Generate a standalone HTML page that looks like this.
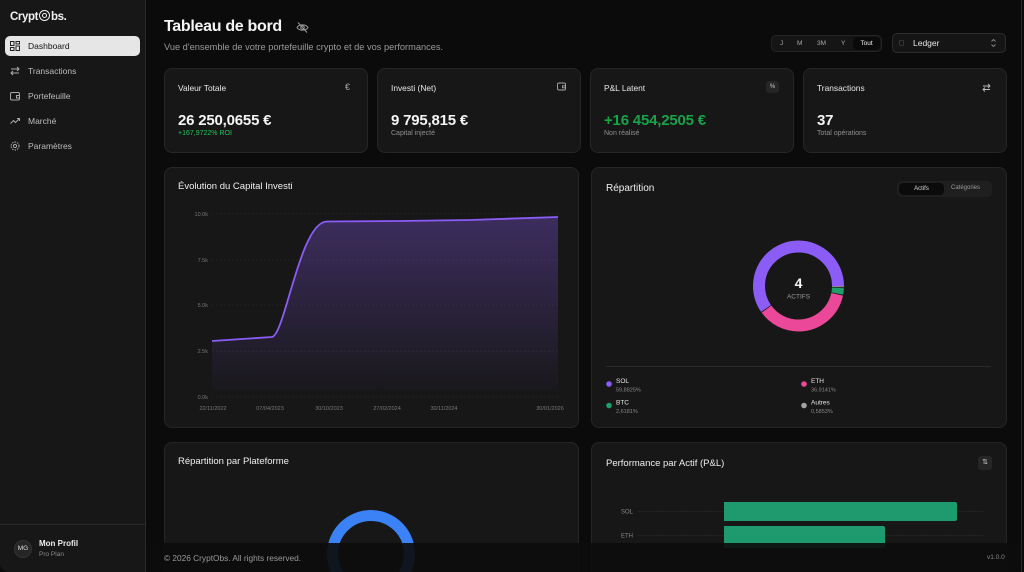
<!DOCTYPE html>
<html><head><meta charset="utf-8">
<style>
*{margin:0;padding:0;box-sizing:border-box}
html,body{width:1024px;height:572px;overflow:hidden;background:#0b0b0b;font-family:"Liberation Sans",sans-serif;color:#e5e5e5}
#wrap{position:relative;width:1024px;height:572px;overflow:hidden}
.abs{position:absolute}
#side{left:0;top:0;width:146px;height:572px;background:#171717;border-right:1px solid #2a2a2a;border-bottom-left-radius:8px}
.nav{position:absolute;left:5px;width:135px;height:20px;border-radius:5px;font-size:8.5px;color:#bdbdbd;line-height:20px;padding-left:23px}
.nav svg{position:absolute;left:5px;top:5px}
.nav.act{background:#e6e6e6;color:#141414}
.card{position:absolute;background:#171717;border:1px solid #262626;border-radius:8px}
.ct{position:absolute;font-size:8.4px;color:#e8e8e8;white-space:nowrap}
.cv{position:absolute;font-size:15px;font-weight:bold;color:#f5f5f5;letter-spacing:-0.2px;white-space:nowrap}
.cs{position:absolute;font-size:7px;color:#8f8f8f;white-space:nowrap}
.t{position:absolute;white-space:nowrap}
</style></head><body><div id="wrap">

<!-- sidebar -->
<div id="side" class="abs">
  <div class="t" style="left:10px;top:9px;font-size:11.5px;font-weight:bold;color:#f2f2f2;letter-spacing:-0.4px">Crypt<span style="display:inline-block;width:11px;height:11px;border:1.3px solid #f2f2f2;border-radius:50%;position:relative;top:1px;margin:0 1px"><span style="position:absolute;left:1.5px;top:1.5px;width:5.5px;height:5.5px;border:1.2px solid #f2f2f2;border-radius:50%"></span></span>bs.</div>
  <div class="nav act" style="top:36px"><svg width="10" height="10" viewBox="0 0 10 10" fill="none" stroke="#222" stroke-width="1"><rect x=".5" y=".5" width="3.5" height="4"/><rect x="6" y=".5" width="3.5" height="2.5"/><rect x=".5" y="6.5" width="3.5" height="3"/><rect x="6" y="5" width="3.5" height="4.5"/></svg>Dashboard</div>
  <div class="nav" style="top:61px"><svg width="10" height="10" viewBox="0 0 10 10" fill="none" stroke="#aaa" stroke-width="1"><path d="M1 3h8M7 1l2 2-2 2M9 7H1M3 5L1 7l2 2"/></svg>Transactions</div>
  <div class="nav" style="top:86px"><svg width="10" height="10" viewBox="0 0 10 10" fill="none" stroke="#aaa" stroke-width="1"><rect x=".5" y="1.5" width="9" height="7.5" rx="1.5"/><path d="M6.5 4.5h3v2.5h-3z"/></svg>Portefeuille</div>
  <div class="nav" style="top:111px"><svg width="10" height="10" viewBox="0 0 10 10" fill="none" stroke="#aaa" stroke-width="1"><path d="M.5 7.5l3-3 2 2 4-4M7 2.5h2.5V5"/></svg>Marché</div>
  <div class="nav" style="top:136px"><svg width="10" height="10" viewBox="0 0 10 10" fill="none" stroke="#aaa" stroke-width="1"><circle cx="5" cy="5" r="1.6"/><circle cx="5" cy="5" r="4" stroke-dasharray="1.6 1"/></svg>Paramètres</div>
  <div class="abs" style="left:0;top:524px;width:145px;height:1px;background:#2a2a2a"></div>
  <div class="abs" style="left:14px;top:540px;width:18px;height:18px;border-radius:50%;background:#262626;border:1px solid #333;font-size:6.5px;color:#ddd;text-align:center;line-height:16px">MG</div>
  <div class="t" style="left:39px;top:539px;font-size:8px;color:#eee;font-weight:bold">Mon Profil</div>
  <div class="t" style="left:39px;top:551px;font-size:6.5px;color:#8a8a8a">Pro Plan</div>
</div>

<!-- right frame edge -->
<div class="abs" style="left:1021px;top:0;width:1px;height:572px;background:#2a2a2a"></div>

<!-- header -->
<div class="t" style="left:164px;top:18px;font-size:16px;font-weight:bold;color:#f5f5f5;letter-spacing:-0.3px">Tableau de bord</div>
<svg class="abs" style="left:296px;top:21px" width="13" height="13" viewBox="0 0 13 13" fill="none" stroke="#999" stroke-width="1"><path d="M1 6.5C3 3 10 3 12 6.5 10 10 3 10 1 6.5z"/><circle cx="6.5" cy="6.5" r="1.8"/><path d="M2 1.5l9 10"/></svg>
<div class="t" style="left:164px;top:42px;font-size:9.25px;color:#9a9a9a">Vue d'ensemble de votre portefeuille crypto et de vos performances.</div>

<div class="abs" style="left:771px;top:35px;width:111px;height:17px;background:#151515;border:1px solid #242424;border-radius:5px"></div>
<div class="t" style="left:780px;top:40px;font-size:6.5px;color:#aaa">J</div>
<div class="t" style="left:797px;top:40px;font-size:6.5px;color:#aaa">M</div>
<div class="t" style="left:817px;top:40px;font-size:6.5px;color:#aaa">3M</div>
<div class="t" style="left:841px;top:40px;font-size:6.5px;color:#aaa">Y</div>
<div class="abs" style="left:853px;top:37px;width:27px;height:13px;background:#0a0a0a;border-radius:4px;font-size:6.5px;color:#f0f0f0;text-align:center;line-height:13px">Tout</div>

<div class="abs" style="left:892px;top:33px;width:114px;height:20px;background:#151515;border:1px solid #2c2c2c;border-radius:5px"></div>
<div class="abs" style="left:899px;top:40px;width:5px;height:6px;border:1px solid #333;border-radius:1px"></div>
<div class="t" style="left:913px;top:38px;font-size:8.5px;color:#e5e5e5">Ledger</div>
<svg class="abs" style="left:990px;top:38px" width="7" height="10" viewBox="0 0 7 10" fill="none" stroke="#888" stroke-width="0.9"><path d="M1.5 3.5L3.5 1.5 5.5 3.5M1.5 6.5L3.5 8.5 5.5 6.5"/></svg>

<!-- stat cards -->
<div class="card" style="left:164px;top:68px;width:204px;height:85px"></div>
<div class="ct" style="left:178px;top:83px">Valeur Totale</div>
<div class="t" style="left:345px;top:82px;font-size:9px;color:#aaa">€</div>
<div class="cv" style="left:178px;top:112px">26 250,0655 €</div>
<div class="cs" style="left:178px;top:130px;color:#22c55e">+167,9722% ROI</div>

<div class="card" style="left:377px;top:68px;width:204px;height:85px"></div>
<div class="ct" style="left:391px;top:83px">Investi (Net)</div>
<svg class="abs" style="left:557px;top:82px" width="9" height="9" viewBox="0 0 9 9" fill="none" stroke="#aaa" stroke-width="0.9"><rect x=".5" y="1" width="8" height="7" rx="1.3"/><path d="M5.5 3.8h3v2h-3z"/></svg>
<div class="cv" style="left:391px;top:112px">9 795,815 €</div>
<div class="cs" style="left:391px;top:130px">Capital injecté</div>

<div class="card" style="left:590px;top:68px;width:204px;height:85px"></div>
<div class="ct" style="left:604px;top:83px">P&amp;L Latent</div>
<div class="abs" style="left:766px;top:81px;width:13px;height:12px;background:#262626;border-radius:3px;font-size:6px;color:#ccc;text-align:center;line-height:12px">%</div>
<div class="cv" style="left:604px;top:112px;color:#16a34a">+16 454,2505 €</div>
<div class="cs" style="left:604px;top:130px">Non réalisé</div>

<div class="card" style="left:803px;top:68px;width:204px;height:85px"></div>
<div class="ct" style="left:817px;top:83px">Transactions</div>
<svg class="abs" style="left:982px;top:83px" width="9" height="9" viewBox="0 0 9 9" fill="none" stroke="#bbb" stroke-width="0.9"><path d="M1 3h7M6 1l2 2-2 2M8 6.5H1M3 4.5L1 6.5l2 2"/></svg>
<div class="cv" style="left:817px;top:112px">37</div>
<div class="cs" style="left:817px;top:130px">Total opérations</div>

<!-- chart cards -->
<div class="card" style="left:164px;top:167px;width:415px;height:261px"></div>
<div class="t" style="left:178px;top:181px;font-size:9.5px;color:#f0f0f0">Évolution du Capital Investi</div>

<div class="card" style="left:591px;top:167px;width:416px;height:261px"></div>
<div class="t" style="left:606px;top:183px;font-size:10px;color:#f0f0f0">Répartition</div>
<div class="abs" style="left:897px;top:181px;width:95px;height:16px;background:#1f1f1f;border-radius:5px"></div>
<div class="abs" style="left:899px;top:183px;width:45px;height:12px;background:#0b0b0b;border-radius:4px;font-size:6px;color:#ddd;text-align:center;line-height:12px">Actifs</div>
<div class="t" style="left:951px;top:185px;font-size:6px;color:#999">Catégories</div>

<div class="card" style="left:164px;top:442px;width:415px;height:140px"></div>
<div class="t" style="left:178px;top:456px;font-size:9.5px;color:#f0f0f0">Répartition par Plateforme</div>
<div class="card" style="left:591px;top:442px;width:416px;height:140px"></div>
<div class="t" style="left:606px;top:458px;font-size:9.5px;color:#f0f0f0">Performance par Actif (P&amp;L)</div>
<div class="abs" style="left:978px;top:456px;width:14px;height:14px;background:#262626;border-radius:3px;font-size:7px;color:#ccc;text-align:center;line-height:14px">⇅</div>

<svg class="abs" style="left:0;top:0" width="1024" height="572" viewBox="0 0 1024 572" font-family="Liberation Sans, sans-serif">
  <defs>
    <linearGradient id="g" x1="0" y1="0" x2="0" y2="1">
      <stop offset="0" stop-color="#8b5cf6" stop-opacity="0.32"/>
      <stop offset="1" stop-color="#8b5cf6" stop-opacity="0.02"/>
    </linearGradient>
  </defs>
  <g stroke="#2e2e2e" stroke-width="0.6" stroke-dasharray="2 2">
    <line x1="212" y1="214" x2="558" y2="214"/>
    <line x1="212" y1="260" x2="558" y2="260"/>
    <line x1="212" y1="305" x2="558" y2="305"/>
    <line x1="212" y1="351" x2="558" y2="351"/>
    <line x1="212" y1="397" x2="558" y2="397"/>
  </g>
  <path d="M212,341 L272,337 C285,335 300,221.5 327,221.5 L400,221 L470,220 L558,217 L558,390 L212,390 Z" fill="url(#g)"/>
  <path d="M212,341 L272,337 C285,335 300,221.5 327,221.5 L400,221 L470,220 L558,217" fill="none" stroke="#8b5cf6" stroke-width="1.8"/>
  <g font-size="5.5" fill="#777" text-anchor="end">
    <text x="208" y="216">10.0k</text>
    <text x="208" y="262">7.5k</text>
    <text x="208" y="307">5.0k</text>
    <text x="208" y="353">2.5k</text>
    <text x="208" y="399">0.0k</text>
  </g>
  <g font-size="5.5" fill="#777" text-anchor="middle">
    <text x="213" y="410">22/11/2022</text>
    <text x="270" y="410">07/04/2023</text>
    <text x="329" y="410">30/10/2023</text>
    <text x="387" y="410">27/02/2024</text>
    <text x="444" y="410">30/11/2024</text>
    <text x="550" y="410">30/01/2026</text>
  </g>

  <!-- donut -->
  <g transform="matrix(1,0,0,-1,0,572)" fill="none" stroke-width="12">
    <circle cx="798.5" cy="286" r="39.5" stroke="#8b5cf6" stroke-dasharray="147.8 300" stroke-dashoffset="0"/>
    <circle cx="798.5" cy="286" r="39.5" stroke="#ec4899" stroke-dasharray="90.8 300" stroke-dashoffset="-148.6"/>
    <circle cx="798.5" cy="286" r="39.5" stroke="#1f9d6a" stroke-dasharray="5.7 300" stroke-dashoffset="-240.2"/>
    <circle cx="798.5" cy="286" r="39.5" stroke="#a3a3a3" stroke-dasharray="0.9 300" stroke-dashoffset="-246.7"/>
  </g>
  <text x="798.5" y="288" font-size="14" font-weight="bold" fill="#f5f5f5" text-anchor="middle">4</text>
  <text x="798.5" y="298.5" font-size="6.5" fill="#9a9a9a" text-anchor="middle">ACTIFS</text>
  <line x1="606" y1="366.5" x2="991" y2="366.5" stroke="#2a2a2a" stroke-width="1"/>
  <circle cx="609" cy="384" r="2.8" fill="#8b5cf6"/>
  <text x="616" y="383" font-size="6.5" fill="#e5e5e5">SOL</text>
  <text x="616" y="391.5" font-size="5.5" fill="#888">59,8825%</text>
  <circle cx="804" cy="384" r="2.8" fill="#ec4899"/>
  <text x="811" y="383" font-size="6.5" fill="#e5e5e5">ETH</text>
  <text x="811" y="391.5" font-size="5.5" fill="#888">36,9141%</text>
  <circle cx="609" cy="405.5" r="2.8" fill="#1f9d6a"/>
  <text x="616" y="404.5" font-size="6.5" fill="#e5e5e5">BTC</text>
  <text x="616" y="413" font-size="5.5" fill="#888">2,6181%</text>
  <circle cx="804" cy="405.5" r="2.8" fill="#a3a3a3"/>
  <text x="811" y="404.5" font-size="6.5" fill="#e5e5e5">Autres</text>
  <text x="811" y="413" font-size="5.5" fill="#888">0,5853%</text>

  <!-- platform donut -->
  <circle cx="371" cy="554" r="38.5" fill="none" stroke="#3b82f6" stroke-width="11"/>

  <!-- bars -->
  <g stroke="#3a3a3a" stroke-width="0.6" stroke-dasharray="1.5 1.5">
    <line x1="638" y1="511.5" x2="985" y2="511.5"/>
    <line x1="638" y1="535.5" x2="985" y2="535.5"/>
  </g>
  <path d="M724,502 H955 a2,2 0 0 1 2,2 V519 a2,2 0 0 1 -2,2 H724 Z" fill="#1f9a6e"/>
  <path d="M724,526 H883 a2,2 0 0 1 2,2 V548 H724 Z" fill="#1f9a6e"/>
  <g font-size="6" fill="#888" text-anchor="end">
    <text x="633" y="513.5">SOL</text>
    <text x="633" y="537.5">ETH</text>
  </g>
</svg>

<!-- footer -->
<div class="abs" style="left:146px;top:543px;width:875px;height:29px;background:rgba(13,13,13,0.92);border-bottom-right-radius:8px"></div>
<div class="t" style="left:164px;top:553px;font-size:8.3px;color:#9a9a9a">© 2026 CryptObs. All rights reserved.</div>
<div class="t" style="left:987px;top:554px;font-size:6.5px;color:#8a8a8a">v1.0.0</div>

</div></body></html>
